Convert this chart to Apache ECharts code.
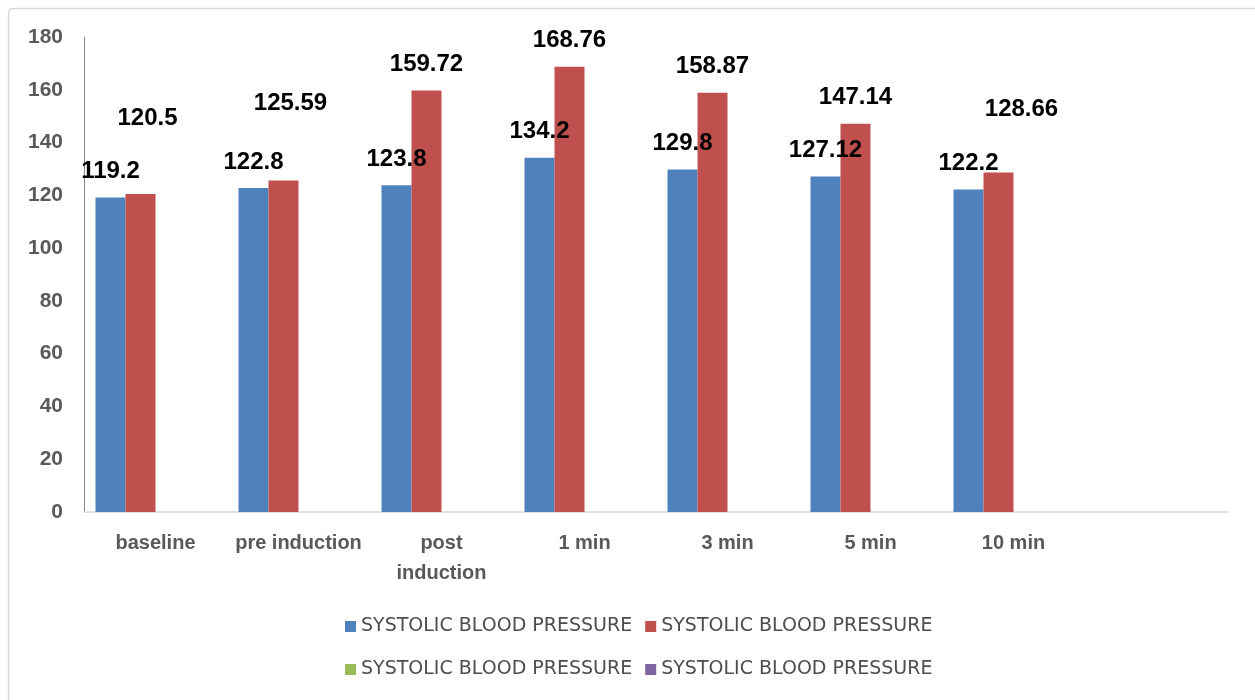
<!DOCTYPE html>
<html>
<head>
<meta charset="utf-8">
<title>Systolic blood pressure</title>
<script src="https://cdn.jsdelivr.net/npm/echarts@6/dist/echarts.min.js"></script>
<style>
  html, body { margin: 0; padding: 0; background: #ffffff; }
  #chart { width: 1255px; height: 700px; }
</style>
</head>
<body>
<div id="chart"></div>
<script>
// Time points (the last slot is left empty)
const categories = ['baseline', 'pre induction', 'post\ninduction', '1 min', '3 min', '5 min', '10 min', ''];

// Systolic blood pressure, two groups plus two empty series shown in the legend
const sbpGroupA = [119.2, 122.8, 123.8, 134.2, 129.8, 127.12, 122.2];
const sbpGroupB = [120.5, 125.59, 159.72, 168.76, 158.87, 147.14, 128.66];
const sbpGroupC = [null, null, null, null, null, null, null];
const sbpGroupD = [null, null, null, null, null, null, null];

const legendLabel = 'SYSTOLIC BLOOD PRESSURE';
const seriesKeys = ['sbpA', 'sbpB', 'sbpC', 'sbpD'];
const colors = ['#4F81BD', '#C0504D', '#9BBB59', '#8064A2'];

// Value ticks
const yMin = 0, yMax = 180, yStep = 20;

// A few value labels sit further up / right of their bars
const labelNudgeB = { 0: [7, -50], 1: [7, -51], 6: [23, -37] };

const valueLabelStyle = {
  show: true,
  position: 'top',
  distance: 14,
  color: '#000000',
  fontFamily: '"Liberation Sans", Arial, sans-serif',
  fontWeight: 'bold',
  fontSize: 24,
  lineHeight: 24
};

function withLabels(values, nudge) {
  return values.map((v, i) => {
    if (nudge && nudge[i]) {
      return { value: v, label: { offset: nudge[i] } };
    }
    return v;
  });
}

const seriesData = [
  withLabels(sbpGroupA, null),
  withLabels(sbpGroupB, labelNudgeB),
  sbpGroupC,
  sbpGroupD
];

const chart = echarts.init(document.getElementById('chart'), null, { renderer: 'canvas' });

const legendCommon = {
  orient: 'horizontal',
  left: 340,
  icon: 'rect',
  itemWidth: 11,
  itemHeight: 11,
  itemGap: 13,
  selectedMode: false,
  formatter: () => legendLabel,
  textStyle: {
    color: '#4d4d4d',
    fontFamily: '"DejaVu Sans", sans-serif',
    fontSize: 19
  }
};

chart.setOption({
  backgroundColor: '#ffffff',
  animation: false,
  color: colors,
  graphic: [{
    type: 'rect',
    shape: { x: 8.5, y: 8.5, width: 1270, height: 720, r: 4 },
    style: { fill: null, stroke: '#d9d9d9', lineWidth: 1.5 },
    silent: true,
    z: -1
  }],
  grid: { left: 84, right: 27, top: 37, bottom: 188 },
  legend: [
    Object.assign({}, legendCommon, { top: 612, data: [seriesKeys[0], seriesKeys[1]] }),
    Object.assign({}, legendCommon, { top: 655, data: [seriesKeys[2], seriesKeys[3]] })
  ],
  xAxis: {
    type: 'category',
    data: categories,
    boundaryGap: true,
    axisLine: { show: true, lineStyle: { color: '#d9d9d9', width: 1.5 } },
    axisTick: { show: false },
    axisLabel: {
      interval: 0,
      margin: 16,
      color: '#595959',
      fontFamily: '"Liberation Sans", Arial, sans-serif',
      fontWeight: 'bold',
      fontSize: 20,
      lineHeight: 30
    },
    splitLine: { show: false }
  },
  yAxis: {
    type: 'value',
    min: yMin,
    max: yMax,
    interval: yStep,
    axisLine: { show: true, lineStyle: { color: '#868686', width: 1 } },
    axisTick: { show: false },
    splitLine: { show: false },
    axisLabel: {
      margin: 21,
      color: '#595959',
      fontFamily: '"Liberation Sans", Arial, sans-serif',
      fontWeight: 'bold',
      fontSize: 21
    }
  },
  series: seriesKeys.map((key, i) => ({
    name: key,
    type: 'bar',
    data: seriesData[i],
    barWidth: 30,
    barGap: '0%',
    itemStyle: { color: colors[i] },
    label: i < 2 ? valueLabelStyle : { show: false }
  }))
});
</script>
</body>
</html>
